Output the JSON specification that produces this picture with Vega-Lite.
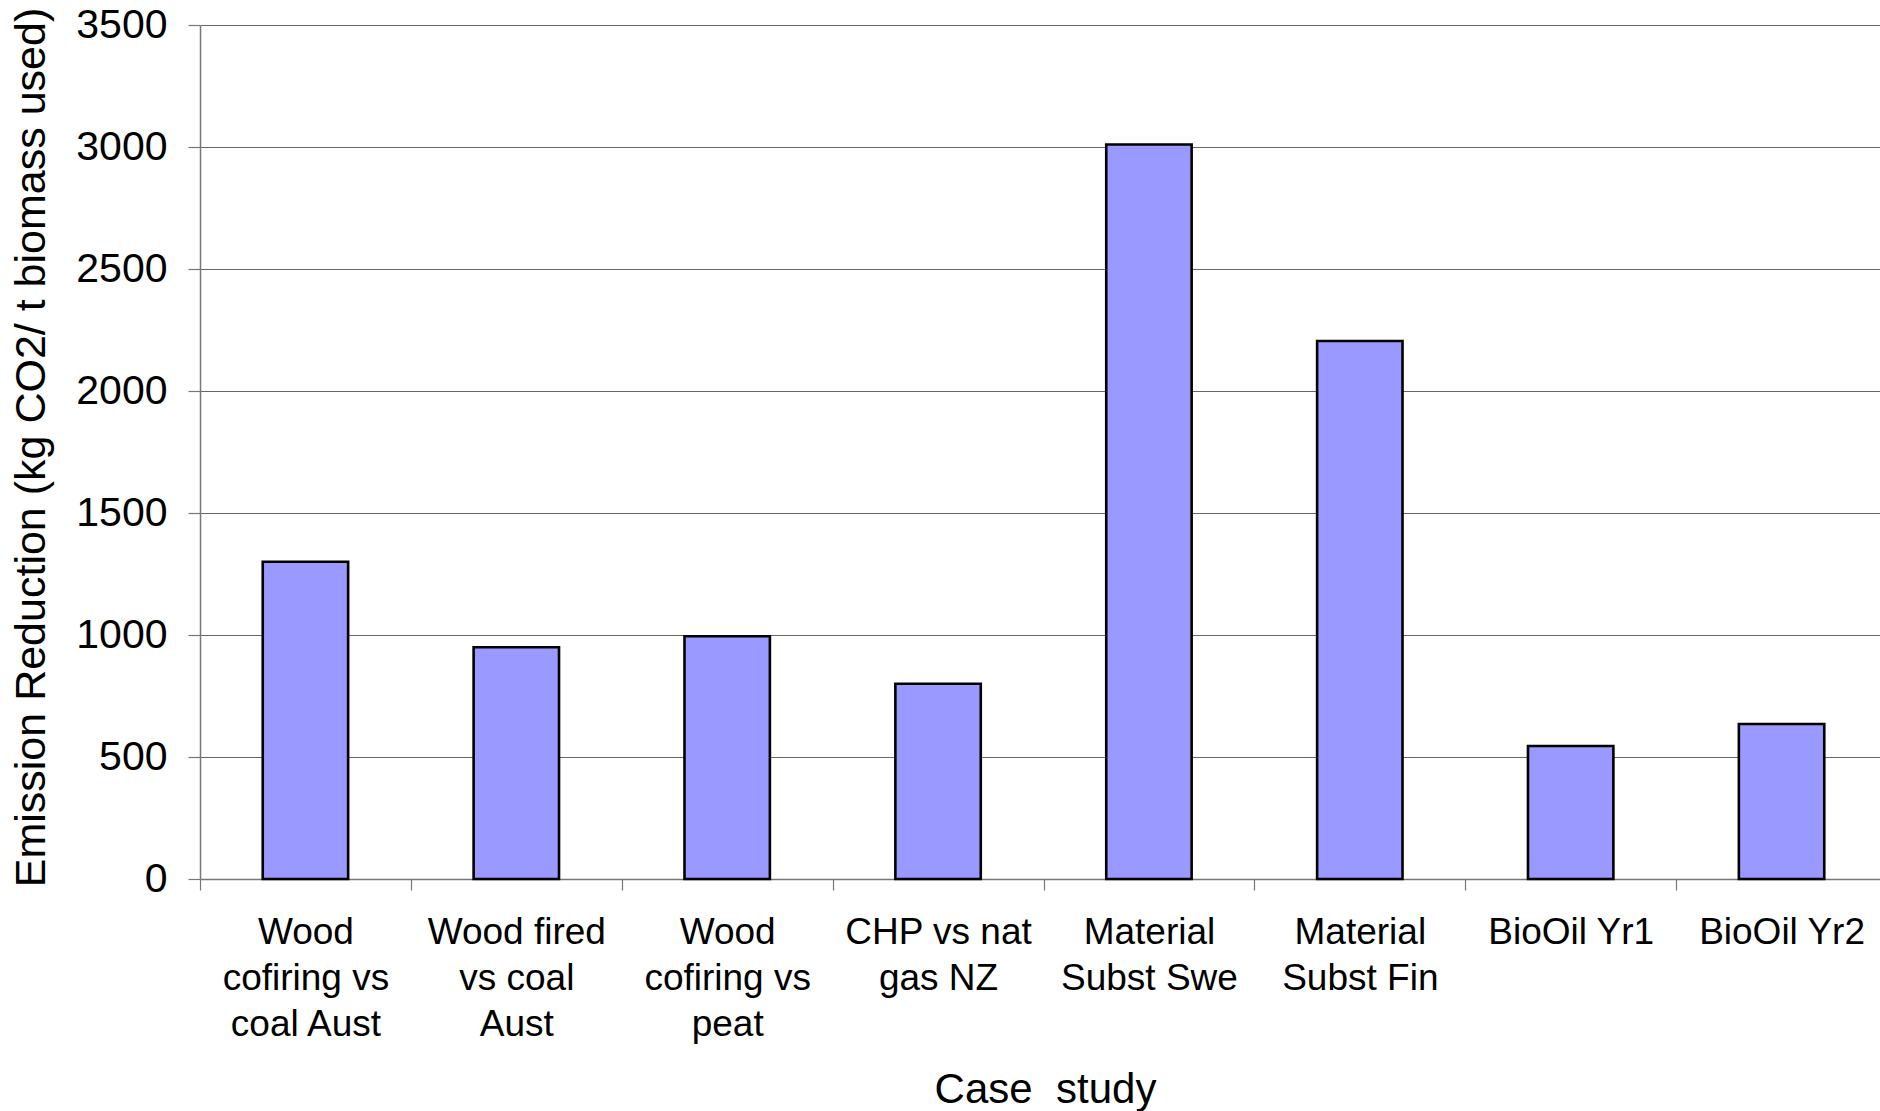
{
  "$schema": "https://vega.github.io/schema/vega-lite/v6.json",
  "width": 1680,
  "height": 854,
  "autosize": "none",
  "padding": {"left": 200, "top": 25, "right": 0, "bottom": 232},
  "background": "white",
  "config": {
    "view": {"stroke": null},
    "font": "Liberation Sans"
  },
  "data": {
    "values": [
      {"case": "Wood\ncofiring vs\ncoal Aust", "reduction": 1300},
      {"case": "Wood fired\nvs coal\nAust", "reduction": 950},
      {"case": "Wood\ncofiring vs\npeat", "reduction": 995},
      {"case": "CHP vs nat\ngas NZ", "reduction": 800},
      {"case": "Material\nSubst Swe", "reduction": 3010},
      {"case": "Material\nSubst Fin", "reduction": 2205},
      {"case": "BioOil Yr1", "reduction": 545},
      {"case": "BioOil Yr2", "reduction": 635}
    ]
  },
  "mark": {
    "type": "bar",
    "fill": "#9999ff",
    "stroke": "#000000",
    "strokeWidth": 2.6,
    "width": {"band": 0.405}
  },
  "encoding": {
    "x": {
      "field": "case",
      "type": "nominal",
      "sort": null,
      "scale": {"paddingInner": 0, "paddingOuter": 0, "range": [0, 1687]},
      "axis": {
        "title": "Case \u00a0study",
        "titleFont": "Liberation Sans",
        "titleFontSize": 42,
        "titleFontWeight": "normal",
        "titleColor": "#000000",
        "titleBaseline": "alphabetic",
        "titleX": 845,
        "titleY": 223,
        "labelAngle": 0,
        "labelExpr": "split(datum.label, '\\n')",
        "labelFont": "Liberation Sans",
        "labelFontSize": 37,
        "labelLineHeight": 46,
        "labelColor": "#000000",
        "labelPadding": 24,
        "labelLimit": 0,
        "tickBand": "extent",
        "tickSize": 11,
        "tickColor": "#777777",
        "tickWidth": 1.2,
        "domainColor": "#777777",
        "domainWidth": 1.5,
        "grid": false
      }
    },
    "y": {
      "field": "reduction",
      "type": "quantitative",
      "scale": {"domain": [0, 3500], "nice": false},
      "axis": {
        "title": "Emission Reduction (kg CO2/ t biomass used)",
        "titleFont": "Liberation Sans",
        "titleFontSize": 43,
        "titleFontWeight": "normal",
        "titleColor": "#000000",
        "titleAngle": -90,
        "titleBaseline": "alphabetic",
        "titleAlign": "center",
        "titleX": -156,
        "titleY": 422,
        "values": [0, 500, 1000, 1500, 2000, 2500, 3000, 3500],
        "format": "d",
        "labelFont": "Liberation Sans",
        "labelFontSize": 41,
        "labelColor": "#000000",
        "labelPadding": 21,
        "tickSize": 12,
        "tickColor": "#777777",
        "tickWidth": 1.2,
        "domainColor": "#777777",
        "domainWidth": 1.5,
        "grid": true,
        "gridColor": "#666666",
        "gridWidth": 1.2
      }
    }
  }
}
